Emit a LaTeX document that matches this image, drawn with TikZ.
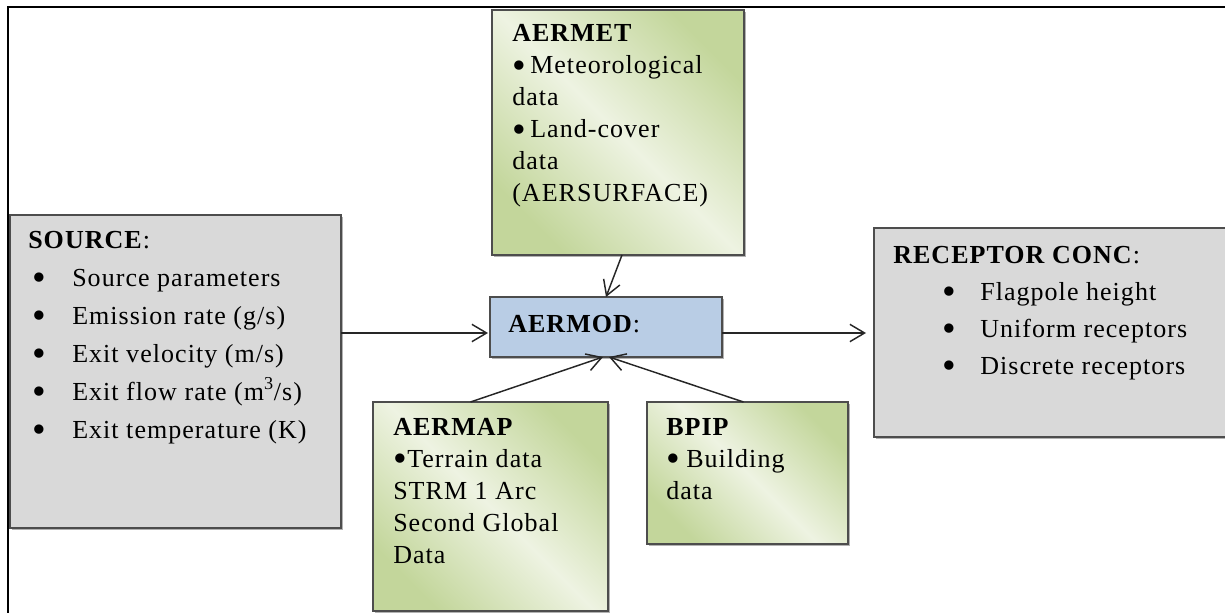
\documentclass[tikz,border=0pt]{standalone}
\usepackage{fontspec}
\usepackage{graphicx}
\setmainfont[LetterSpace=4.0]{Liberation Serif}
\usetikzlibrary{arrows.meta,calc,fit,shadows}
\definecolor{grn}{HTML}{C3D69B}
\definecolor{lgrn}{HTML}{EEF3E2}
\definecolor{gbox}{HTML}{D9D9D9}
\definecolor{bbox}{HTML}{B9CDE5}
\definecolor{edge}{HTML}{4D4D4D}
\newcommand\bul{\raisebox{-0.16em}{\scalebox{1.5}{•}}}
\begin{document}
\begin{tikzpicture}[x=0.75pt,y=-0.75pt,
  box/.style={draw=edge, line width=1.2pt, inner sep=0pt, outer sep=0pt,
    drop shadow={shadow xshift=1.2pt,shadow yshift=-1.2pt,opacity=0.3,fill=black}},
  graybox/.style={box, fill=gbox},
  bluebox/.style={box, fill=bbox},
  greenbox/.style={box, left color=grn, right color=grn, middle color=lgrn, shading angle=135},
  txt/.style={anchor=base west, inner sep=0pt, font=\fontsize{19.5pt}{24pt}\selectfont},
  arr/.style={draw=black!85, line width=1.1pt, -{Straight Barb[length=11pt,width=13pt]}},
]
\useasboundingbox (0,0) rectangle (1225,613);
\clip (0,0) rectangle (1225,613);
\draw[line width=1.9pt] (8,7) rectangle (1260,660);

\node[graybox, fit={(10,215) (341,528)}] (source) {};
\node[greenbox, fit={(492,10) (744,255)}] (aermet) {};
\node[bluebox, fit={(490,297) (722,357)}] (aermod) {};
\node[greenbox, fit={(373,402) (608,611)}] (aermap) {};
\node[greenbox, fit={(647,402) (848,544)}] (bpip) {};
\node[graybox, fit={(874,228) (1240,437)}] (recep) {};

\node[txt] (sourcet) at (28,248) {\vtop{\baselineskip=28.5pt
  \hbox{\textbf{SOURCE}:}
  \hbox{\hspace*{3pt}\makebox[30pt][l]{\bul}Source parameters}
  \hbox{\hspace*{3pt}\makebox[30pt][l]{\bul}Emission rate (g/s)}
  \hbox{\hspace*{3pt}\makebox[30pt][l]{\bul}Exit velocity (m/s)}
  \hbox{\hspace*{3pt}\makebox[30pt][l]{\bul}Exit flow rate (m\textsuperscript{3}/s)}
  \hbox{\hspace*{3pt}\makebox[30pt][l]{\bul}Exit temperature (K)}}};

\node[txt] (aermett) at (512,42) {\vtop{\baselineskip=24pt
  \hbox{\textbf{AERMET}}
  \hbox{\makebox[13.5pt][l]{\bul}Meteorological}
  \hbox{data}
  \hbox{\makebox[13.5pt][l]{\bul}Land-cover}
  \hbox{data}
  \hbox{(AERSURFACE)}}};

\node[txt] (aermodt) at (508,332) {\textbf{AERMOD}:};

\node[txt] (aermapt) at (393,435) {\vtop{\baselineskip=24pt
  \hbox{\textbf{AERMAP}}
  \hbox{\makebox[10.5pt][l]{\bul}Terrain data}
  \hbox{STRM 1 Arc}
  \hbox{Second Global}
  \hbox{Data}}};

\node[txt] (bpipt) at (666,435) {\vtop{\baselineskip=24pt
  \hbox{\textbf{BPIP}}
  \hbox{\makebox[15pt][l]{\bul}Building}
  \hbox{data}}};

\node[txt] (recept) at (893,263) {\vtop{\baselineskip=27.75pt
  \hbox{\textbf{RECEPTOR CONC}:}
  \hbox{\hspace*{36.75pt}\makebox[28.5pt][l]{\bul}Flagpole height}
  \hbox{\hspace*{36.75pt}\makebox[28.5pt][l]{\bul}Uniform receptors}
  \hbox{\hspace*{36.75pt}\makebox[28.5pt][l]{\bul}Discrete receptors}}};

\coordinate (lvl) at (0,333);
\draw[arr, shorten >=1.5pt] (source.east |- lvl) -- (aermod.west |- lvl);
\draw[arr, shorten >=6pt] (aermod.east |- lvl) -- (recep.west |- lvl);
\draw[arr] ([xshift=3pt]aermet.south) -- (aermod.north);
\draw[arr] ([xshift=-15pt]aermap.north) -- ([xshift=-2.25pt]aermod.south);
\draw[arr] ([xshift=-3pt]bpip.north) -- ([xshift=2.25pt]aermod.south);
\end{tikzpicture}
\end{document}
